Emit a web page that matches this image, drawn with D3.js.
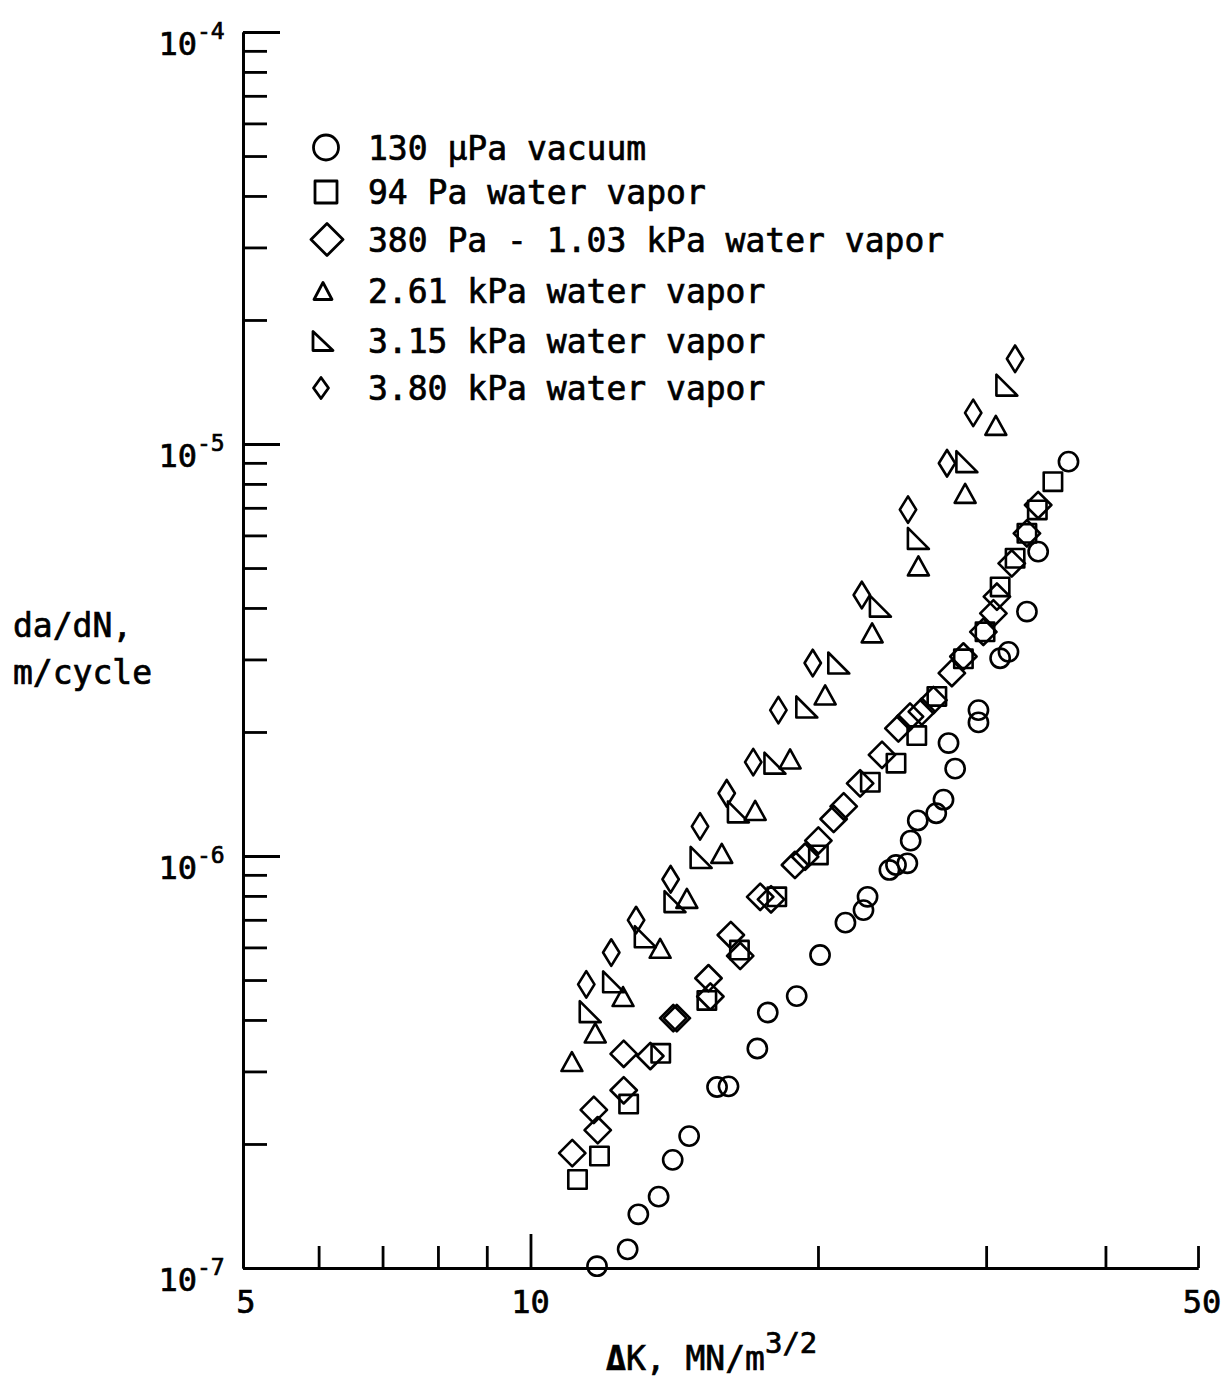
<!DOCTYPE html>
<html><head><meta charset="utf-8">
<script src="https://cdn.jsdelivr.net/npm/d3@7"></script>
<style>
body{margin:0;background:#fff}
text{font-family:"DejaVu Sans Mono",monospace;fill:#000;stroke:#000;stroke-width:0.7px}
</style></head>
<body><svg id="c" width="1222" height="1379"></svg>
<script>
// ---------- data (ΔK in MN/m^3/2, da/dN in m/cycle) ----------
const vacuumK = [11.74,12.64,12.97,13.62,14.09,14.66,15.68,16.12,17.28,17.72,19.0,20.1,21.37,22.32,22.54,23.76,24.14,24.81,25.01,25.44,26.6,27.07,27.84,27.4,29.45,29.45,31.03,31.66,33.1,34.01,36.59];
const vacuumRate = [1.01e-7,1.11e-7,1.35e-7,1.49e-7,1.83e-7,2.09e-7,2.75e-7,2.76e-7,3.41e-7,4.17e-7,4.57e-7,5.75e-7,6.89e-7,7.39e-7,7.96e-7,9.25e-7,9.51e-7,9.6e-7,1.09e-6,1.22e-6,1.27e-6,1.37e-6,1.63e-6,1.88e-6,2.26e-6,2.11e-6,3.02e-6,3.13e-6,3.92e-6,5.48e-6,9.06e-6];

const vapor94K = [11.2,11.81,12.67,13.69,15.3,16.55,18.11,20.02,22.69,24.14,25.38,26.64,28.4,29.92,31.03,32.17,33.1,33.94,35.24];
const vapor94Rate = [1.64e-7,1.87e-7,2.50e-7,3.32e-7,4.46e-7,5.91e-7,7.96e-7,1.006e-6,1.51e-6,1.68e-6,1.96e-6,2.44e-6,3.01e-6,3.50e-6,4.50e-6,5.28e-6,6.07e-6,6.92e-6,8.10e-6];

const vapor380K = [11.06,11.65,11.76,12.52,12.52,13.35,14.11,14.23,15.36,15.43,16.21,16.58,17.4,17.86,18.92,19.39,20.02,20.77,21.28,22.14,23.34,24.28,24.97,25.69,26.42,27.62,28.4,29.8,30.53,30.79,31.91,33.1,34.01];
const vapor380Rate = [1.90e-7,2.42e-7,2.16e-7,2.70e-7,3.31e-7,3.27e-7,4.04e-7,4.04e-7,5.05e-7,4.56e-7,6.43e-7,5.72e-7,7.96e-7,7.85e-7,9.51e-7,9.96e-7,1.09e-6,1.23e-6,1.32e-6,1.50e-6,1.76e-6,2.04e-6,2.18e-6,2.24e-6,2.39e-6,2.78e-6,3.05e-6,3.50e-6,3.88e-6,4.26e-6,5.13e-6,6.07e-6,7.11e-6];

const vapor261K = [11.05,11.69,12.5,13.67,14.58,15.86,17.19,18.7,20.35,22.79,25.48,28.52,30.71];
const vapor261Rate = [3.17e-7,3.72e-7,4.56e-7,5.97e-7,7.89e-7,1.015e-6,1.29e-6,1.72e-6,2.46e-6,3.48e-6,5.06e-6,7.59e-6,1.11e-5];

const vapor315K = [11.55,12.22,13.19,14.17,15.09,16.51,18.03,19.47,21.03,23.25,25.48,28.64,31.54];
const vapor315Rate = [4.19e-7,4.95e-7,6.37e-7,7.75e-7,9.92e-7,1.28e-6,1.68e-6,2.30e-6,2.94e-6,4.04e-6,5.90e-6,9.06e-6,1.39e-5];

const vapor380kK = [11.44,12.15,12.9,14.02,15.05,16.05,17.11,18.18,19.75,22.23,24.85,27.3,29.08,32.17];
const vapor380kRate = [4.88e-7,5.83e-7,6.99e-7,8.78e-7,1.18e-6,1.42e-6,1.69e-6,2.26e-6,2.94e-6,4.30e-6,6.93e-6,8.98e-6,1.19e-5,1.61e-5];

const legendLabels = ["130 μPa vacuum","94 Pa water vapor","380 Pa - 1.03 kPa water vapor","2.61 kPa water vapor","3.15 kPa water vapor","3.80 kPa water vapor"];
const shapes = ["circle","square","diamond","triangle","rtriangle","smalldiamond"];

const xTickLabels = [5,10,50];
const xMinorTicks = [6,7,8,9,20,30,40,50];
const xMajorTicks = [10];
const yMajorTicks = [1e-7,1e-6,1e-5,1e-4];
const yTickExp = ["-7","-6","-5","-4"];
const yMinorMult = [2,3,4,5,6,7,8,9];

// ---------- setup ----------
const svg = d3.select("#c");
const x = d3.scaleLog().domain([5,50]).range([243,1198]);
const y = d3.scaleLog().domain([1e-7,1e-4]).range([1268,32]);

const series = [
  {shape:"circle", K:vacuumK, R:vacuumRate},
  {shape:"square", K:vapor94K, R:vapor94Rate},
  {shape:"diamond", K:vapor380K, R:vapor380Rate},
  {shape:"triangle", K:vapor261K, R:vapor261Rate},
  {shape:"rtriangle", K:vapor315K, R:vapor315Rate},
  {shape:"smalldiamond", K:vapor380kK, R:vapor380kRate}
];

function shapePath(type, big){
  const p = d3.path();
  if(type==="circle"){ const r = big?12.5:9.6; p.arc(0,0,r,0,2*Math.PI); p.closePath(); }
  else if(type==="square"){ const s = big?11:9.2; p.rect(-s,-s,2*s,2*s); }
  else if(type==="diamond"){ const s = big?16:13.2; p.moveTo(0,-s);p.lineTo(s,0);p.lineTo(0,s);p.lineTo(-s,0);p.closePath(); }
  else if(type==="triangle"){ const w = big?9:10.5, h = big?8.5:9.5; p.moveTo(0,-h);p.lineTo(w,h);p.lineTo(-w,h);p.closePath(); }
  else if(type==="rtriangle"){ const w = big?10:10.5, h = big?9.5:10.5; p.moveTo(-w,-h);p.lineTo(-w,h);p.lineTo(w,h);p.closePath(); }
  else if(type==="smalldiamond"){ const w = big?7.5:8.2, h = big?10.5:13.3; p.moveTo(0,-h);p.lineTo(w,0);p.lineTo(0,h);p.lineTo(-w,0);p.closePath(); }
  return p.toString();
}

// ---------- axes ----------
const yMinorTicks = [];
yMajorTicks.slice(0,3).forEach(d => yMinorMult.forEach(m => yMinorTicks.push(d*m)));

const axStyle = g => { g.selectAll("path,line").attr("stroke","#000").attr("stroke-width",2.8); g.selectAll("text").remove(); };

svg.append("g").attr("transform","translate(243,0)")
  .call(d3.axisLeft(y).tickValues(yMinorTicks).tickSize(-24).tickSizeOuter(0).tickFormat(""))
  .call(axStyle);
svg.append("g").attr("transform","translate(243,0)")
  .call(d3.axisLeft(y).tickValues(yMajorTicks).tickSize(-37).tickSizeOuter(0).tickFormat(""))
  .call(axStyle);
svg.append("g").attr("transform","translate(0,1268)")
  .call(d3.axisBottom(x).tickValues(xMinorTicks).tickSize(-22).tickSizeOuter(0).tickFormat(""))
  .call(axStyle);
svg.append("g").attr("transform","translate(0,1268)")
  .call(d3.axisBottom(x).tickValues(xMajorTicks).tickSize(-34).tickSizeOuter(0).tickFormat(""))
  .call(axStyle);

// y tick labels
yMajorTicks.forEach((d,i) => {
  const ty = y(d);
  svg.append("text").attr("x",197).attr("y",ty+23).attr("text-anchor","end").attr("font-size",32).text("10");
  svg.append("text").attr("x",197).attr("y",ty+7).attr("text-anchor","start").attr("font-size",23).text(yTickExp[i]);
});
// x tick labels
const xLabelShift = {5:3,10:0,50:4};
xTickLabels.forEach(d => {
  svg.append("text").attr("x",x(d)+xLabelShift[d]).attr("y",1313).attr("text-anchor","middle").attr("font-size",32).text(d);
});

// axis titles
svg.append("text").attr("x",13).attr("y",637).attr("font-size",33).text("da/dN,");
svg.append("text").attr("x",13).attr("y",684).attr("font-size",33).text("m/cycle");
const xt = svg.append("text").attr("x",606).attr("y",1370).attr("font-size",33);
xt.append("tspan").attr("font-weight","bold").text("Δ");
xt.append("tspan").text("K, MN/m");
xt.append("tspan").attr("dy",-17).attr("font-size",29).text("3/2");

// ---------- legend ----------
const legY = [147.5,192,239.5,291,341,388];
const legX = [326,326,327,323,323,321];
legendLabels.forEach((lab,i) => {
  svg.append("path").attr("d",shapePath(shapes[i],true))
    .attr("transform",`translate(${legX[i]},${legY[i]})`)
    .attr("fill","none").attr("stroke","#000").attr("stroke-width",2.8).attr("stroke-linejoin","round");
  svg.append("text").attr("x",368).attr("y",legY[i]+12).attr("font-size",33).text(lab);
});

// ---------- points ----------
series.forEach(s => {
  svg.append("g").selectAll("path").data(s.K.map((k,i)=>({k, r:s.R[i]}))).join("path")
    .attr("d",shapePath(s.shape,false))
    .attr("transform",d=>`translate(${x(d.k)},${y(d.r)})`)
    .attr("fill","none").attr("stroke","#000").attr("stroke-width",2.6).attr("stroke-linejoin","round");
});
</script></body></html>
